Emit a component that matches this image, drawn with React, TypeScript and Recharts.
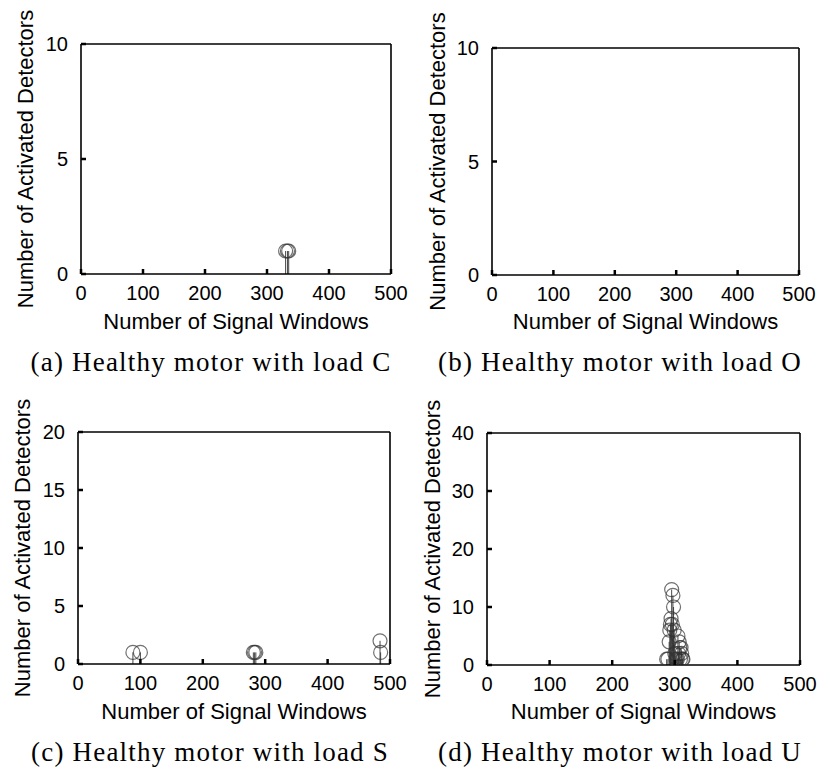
import { ScatterChart, Scatter, XAxis, YAxis, ErrorBar } from 'recharts';

// x = signal window index, y = number of activated detectors
const loadCX = [330, 333, 335];
const loadCY = [1, 1, 1];

const loadOX: number[] = [];
const loadOY: number[] = [];

const loadSX = [88, 100, 281, 283, 285, 484, 485];
const loadSY = [1, 1, 1, 1, 1, 2, 1];

const loadUX = [287, 289, 291, 292, 293, 294, 295, 296, 297, 298, 299, 300, 302, 304, 305, 306, 307, 308, 309, 310, 311, 312, 313];
const loadUY = [1, 1, 4, 6, 7, 8, 13, 7, 12, 10, 6, 2, 1, 1, 5, 2, 4, 3, 1, 3, 2, 1, 1];

const xTicks = [0, 100, 200, 300, 400, 500];
const yTicksC = [0, 5, 10];
const yTicksO = [0, 5, 10];
const yTicksS = [0, 5, 10, 15, 20];
const yTicksU = [0, 10, 20, 30, 40];

const captions = [
  '(a) Healthy motor with load C',
  '(b) Healthy motor with load O',
  '(c) Healthy motor with load S',
  '(d) Healthy motor with load U',
];

const SANS = '"Liberation Sans", Arial, sans-serif';
const SERIF = '"Liberation Serif", "Times New Roman", serif';

const W = 410;
const H = 340;
const X_MARGIN = 12;
const Y_MARGIN = 13;
const TICK_LEN = 5;

interface PanelProps {
  xs: number[];
  ys: number[];
  yTicks: number[];
  left: number;
  top: number;
  plotLeft: number;
  plotRight: number;
  plotTop: number;
  plotBottom: number;
  yLabelX: number;
}

function Ring(props: any) {
  const { cx, cy } = props;
  if (cx == null || cy == null) return <g />;
  return <circle cx={cx} cy={cy} r={7} fill="none" stroke="#333" strokeOpacity={0.7} strokeWidth={1.2} />;
}

// matlab style: label outside, small tick mark pointing into the box
function BottomTick(p: any) {
  return (
    <g>
      <line x1={p.x} x2={p.x} y1={p.y - X_MARGIN} y2={p.y - X_MARGIN - TICK_LEN} stroke="#000" strokeWidth={2.5} />
      <text x={p.x} y={p.y} dy="0.71em" textAnchor="middle" fontSize={20} fontFamily={SANS} fill="#000">
        {p.payload.value}
      </text>
    </g>
  );
}

function LeftTick(p: any) {
  return (
    <g>
      <line x1={p.x + Y_MARGIN} x2={p.x + Y_MARGIN + TICK_LEN} y1={p.y} y2={p.y} stroke="#000" strokeWidth={2.5} />
      <text x={p.x} y={p.y} dy="0.36em" textAnchor="end" fontSize={20} fontFamily={SANS} fill="#000">
        {p.payload.value}
      </text>
    </g>
  );
}

function StemPanel({ xs, ys, yTicks, left, top, plotLeft, plotRight, plotTop, plotBottom, yLabelX }: PanelProps) {
  const data = xs.map((x, i) => ({ x, y: ys[i], stem: [ys[i], 0] }));
  const yMax = yTicks[yTicks.length - 1];
  const labelFont = { fontSize: 22, fill: '#000', fontFamily: SANS };
  const axisStroke = { stroke: '#000', strokeWidth: 1.6 };
  const tickStroke = { stroke: '#000', strokeWidth: 2.5 };
  return (
    <div style={{ position: 'absolute', left, top }}>
      <ScatterChart
        width={W}
        height={H}
        margin={{ top: plotTop - 1, right: W - plotRight - 1, bottom: 0, left: 0 }}
      >
        <XAxis
          xAxisId="b"
          type="number"
          dataKey="x"
          domain={[0, 500]}
          allowDataOverflow
          ticks={xTicks}
          height={H - plotBottom}
          axisLine={axisStroke}
          tickLine={false}
          tickSize={0}
          tickMargin={X_MARGIN}
          tick={BottomTick}
          label={{ value: 'Number of Signal Windows', position: 'insideBottom', offset: 11, style: labelFont }}
        />
        <XAxis
          xAxisId="t"
          orientation="top"
          mirror
          type="number"
          domain={[0, 500]}
          allowDataOverflow
          ticks={xTicks}
          height={1}
          axisLine={axisStroke}
          tickLine={tickStroke}
          tickSize={TICK_LEN}
          tick={false}
        />
        <YAxis
          yAxisId="l"
          type="number"
          dataKey="y"
          domain={[0, yMax]}
          allowDataOverflow
          ticks={yTicks}
          width={plotLeft}
          axisLine={axisStroke}
          tickLine={false}
          tickSize={0}
          tickMargin={Y_MARGIN}
          tick={LeftTick}
          label={{ value: 'Number of Activated Detectors', angle: -90, position: 'insideLeft', offset: yLabelX, style: { ...labelFont, textAnchor: 'middle' } }}
        />
        <YAxis
          yAxisId="r"
          orientation="right"
          mirror
          type="number"
          domain={[0, yMax]}
          allowDataOverflow
          ticks={yTicks}
          width={1}
          axisLine={axisStroke}
          tickLine={tickStroke}
          tickSize={TICK_LEN}
          tick={false}
        />
        <Scatter data={data} xAxisId="b" yAxisId="l" dataKey="y" shape={Ring} isAnimationActive={false}>
          <ErrorBar dataKey="stem" direction="y" width={0} stroke="#333" strokeWidth={0.9} isAnimationActive={false} />
        </Scatter>
      </ScatterChart>
    </div>
  );
}

function Caption({ text, left, top }: { text: string; left: number; top: number }) {
  return (
    <div
      style={{
        position: 'absolute',
        left,
        top,
        width: W,
        textAlign: 'center',
        fontFamily: SERIF,
        fontSize: 27,
        letterSpacing: 1.2,
        lineHeight: '30px',
        color: '#000',
        whiteSpace: 'nowrap',
      }}
    >
      {text}
    </div>
  );
}

export default function App() {
  return (
    <div style={{ position: 'absolute', left: 0, top: 0, width: 819, height: 769, background: '#fff' }}>
      <StemPanel xs={loadCX} ys={loadCY} yTicks={yTicksC} left={0} top={0}
        plotLeft={81} plotRight={390} plotTop={45} plotBottom={274} yLabelX={25} />
      <StemPanel xs={loadOX} ys={loadOY} yTicks={yTicksO} left={410} top={0}
        plotLeft={82} plotRight={388} plotTop={49} plotBottom={275} yLabelX={27} />
      <StemPanel xs={loadSX} ys={loadSY} yTicks={yTicksS} left={0} top={390}
        plotLeft={78} plotRight={389} plotTop={43} plotBottom={274} yLabelX={22} />
      <StemPanel xs={loadUX} ys={loadUY} yTicks={yTicksU} left={410} top={390}
        plotLeft={77} plotRight={389} plotTop={44} plotBottom={275} yLabelX={22} />
      <Caption text={captions[0]} left={6} top={347} />
      <Caption text={captions[1]} left={415} top={347} />
      <Caption text={captions[2]} left={5} top={737} />
      <Caption text={captions[3]} left={415} top={737} />
    </div>
  );
}
